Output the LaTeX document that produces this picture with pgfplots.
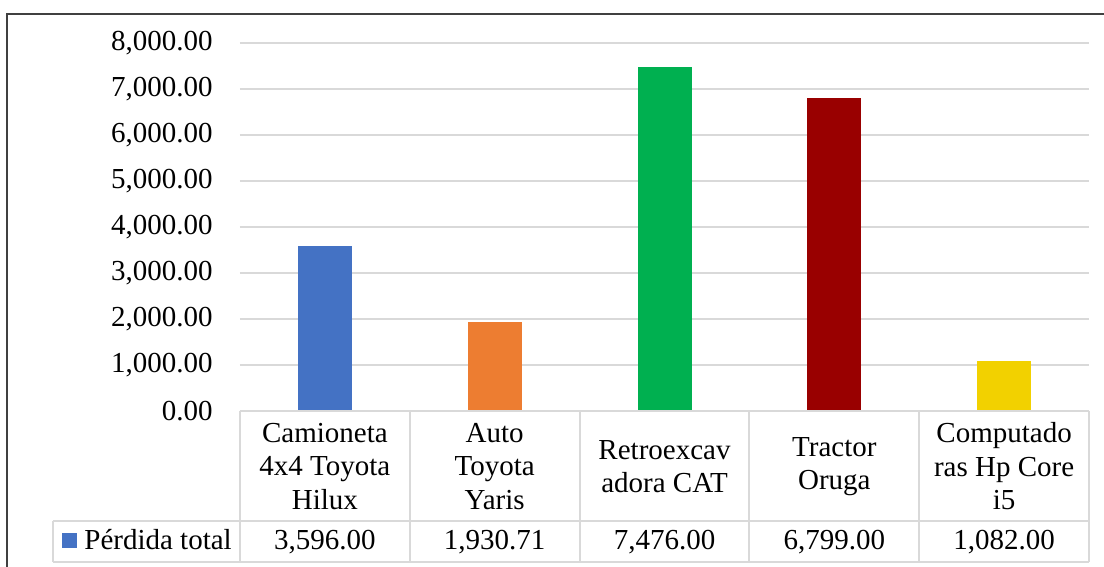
\documentclass[border=0pt]{standalone}
\usepackage{fontspec}
\setmainfont{Liberation Serif}
\usepackage{pgfplots}
\pgfplotsset{compat=1.18}
\definecolor{cblue}{HTML}{4472C4}
\definecolor{corange}{HTML}{ED7D31}
\definecolor{cgreen}{HTML}{00B050}
\definecolor{cred}{HTML}{990000}
\definecolor{cyellow}{HTML}{F2D100}
\definecolor{gridgray}{HTML}{D9D9D9}
\definecolor{framegray}{HTML}{404040}
\begin{document}
\fontsize{14.5pt}{16.75pt}\selectfont
\begin{tikzpicture}
\begin{scope}[x=0.5pt,y=0.5pt,shift={(-240,-156)}]
\useasboundingbox (0,0) rectangle (1104,567);
\draw[color=framegray, line width=1pt] (7.5,553) rectangle (1130,-30);
\end{scope}
\begin{axis}[
  scale only axis,
  width=424.5pt, height=184pt,
  xmin=-0.5, xmax=4.5, ymin=0, ymax=8000,
  ytick={0,1000,...,8000}, xtick=\empty,
  ymajorgrids, grid style={color=gridgray, line width=1pt},
  axis line style={draw=none}, major tick length=0pt, tick style={draw=none},
  yticklabel style={font=\fontsize{14.5pt}{16.75pt}\selectfont, anchor=east, inner sep=0pt, xshift=-13.5pt,
    /pgf/number format/fixed, /pgf/number format/fixed zerofill, /pgf/number format/precision=2,
    /pgf/number format/1000 sep={,}, /pgf/number format/assume math mode=true},
  clip=false,
]
\addplot[ybar, bar width=27pt, bar shift=0pt, fill=cblue, draw=none] coordinates {(0,3596.00)};
\addplot[ybar, bar width=27pt, bar shift=0pt, fill=corange, draw=none] coordinates {(1,1930.71)};
\addplot[ybar, bar width=27pt, bar shift=0pt, fill=cgreen, draw=none] coordinates {(2,7476.00)};
\addplot[ybar, bar width=27pt, bar shift=0pt, fill=cred, draw=none] coordinates {(3,6799.00)};
\addplot[ybar, bar width=27pt, bar shift=0pt, fill=cyellow, draw=none] coordinates {(4,1082.00)};
\end{axis}
\begin{scope}[x=0.5pt,y=0.5pt,shift={(-240,-156)}]
% data table
\draw[color=gridgray, line width=1pt] (240,156) -- (1089,156);
\draw[color=gridgray, line width=1pt] (53,46) -- (1089,46);
\draw[color=gridgray, line width=1pt] (53,5) -- (1089,5);
\draw[color=gridgray, line width=1pt] (53,46) -- (53,5);
\foreach \xx in {240,409.8,579.6,749.4,919.2,1089} {
  \draw[color=gridgray, line width=1pt] (\xx,156) -- (\xx,5);
}
\tikzset{hdr/.style={align=center, inner sep=0pt}}
\node[hdr] at (324.9,100.5) {Camioneta\\4x4 Toyota\\Hilux};
\node[hdr] at (494.7,100.5) {Auto\\Toyota\\Yaris};
\node[hdr] at (664.5,100.5) {Retroexcav\\adora CAT};
\node[hdr] at (834.3,100.5) {Tractor\\Oruga};
\node[hdr] at (1004.1,100.5) {Computado\\ras Hp Core\\i5};
\node[anchor=base, inner sep=0pt] at (324.9,17) {3,596.00};
\node[anchor=base, inner sep=0pt] at (494.7,17) {1,930.71};
\node[anchor=base, inner sep=0pt] at (664.5,17) {7,476.00};
\node[anchor=base, inner sep=0pt] at (834.3,17) {6,799.00};
\node[anchor=base, inner sep=0pt] at (1004.1,17) {1,082.00};
\fill[cblue] (62,19) rectangle (77,34);
\node[anchor=base west, inner sep=0pt] at (84,17) {Pérdida total};
\end{scope}
\end{tikzpicture}
\end{document}
